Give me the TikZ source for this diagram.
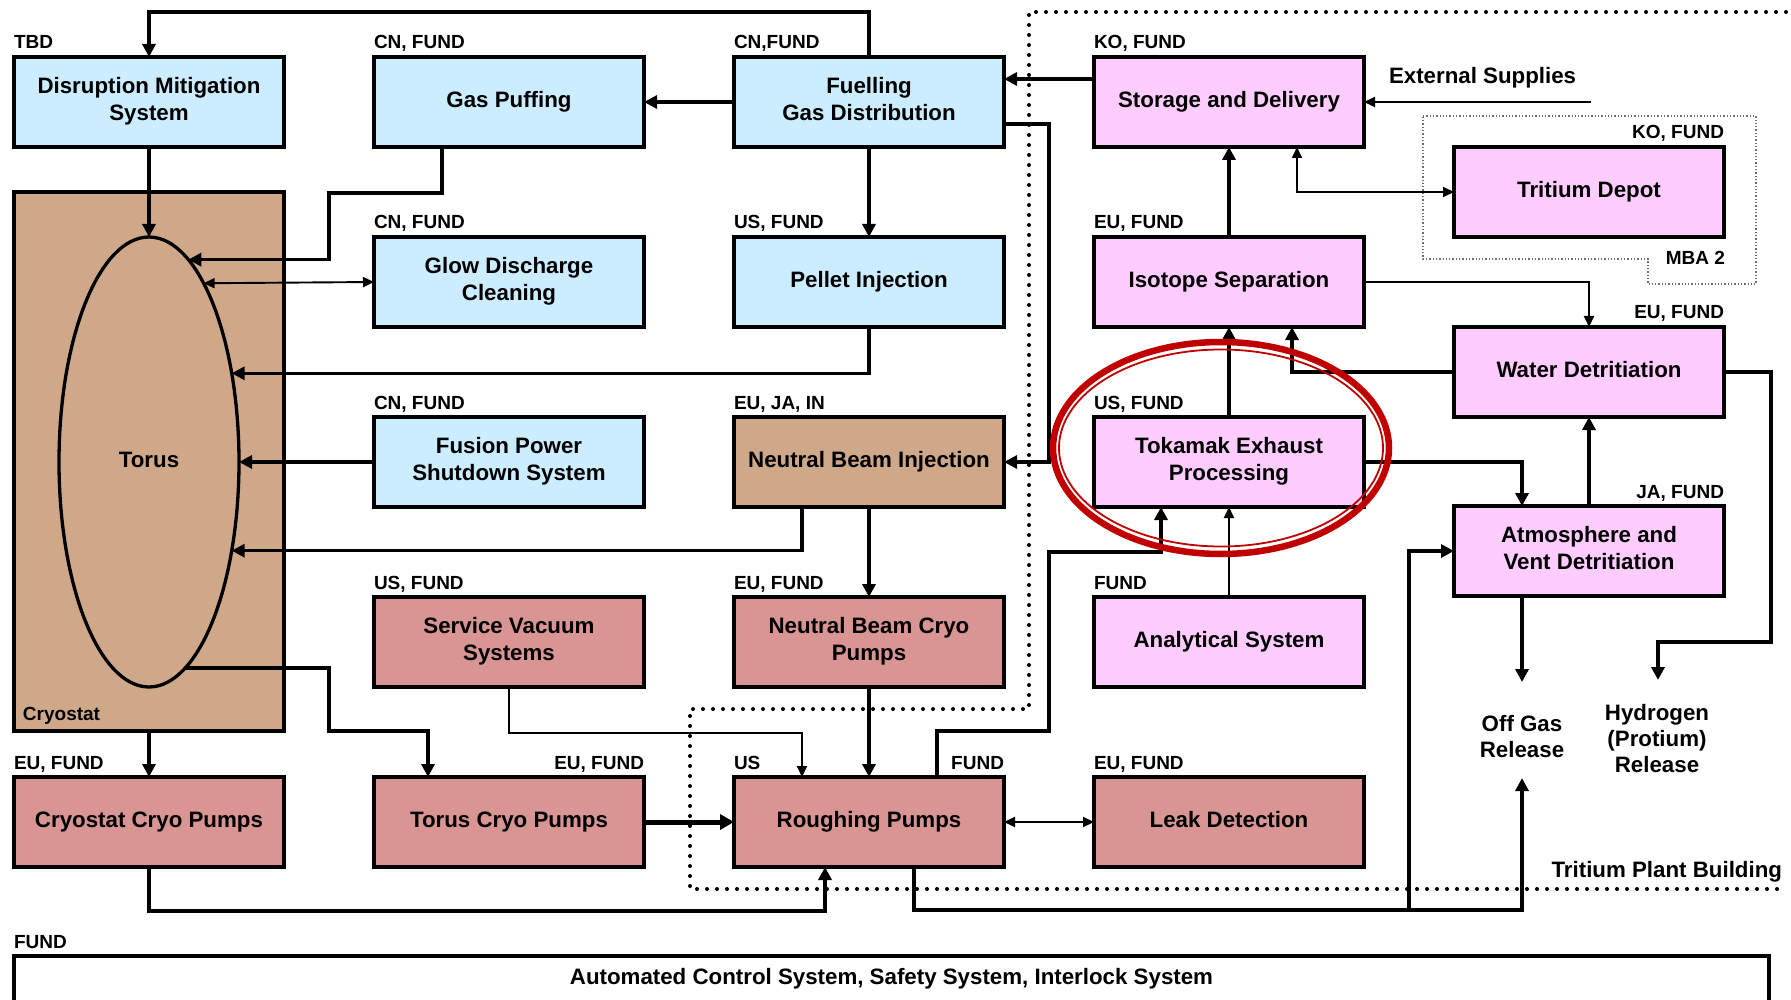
\documentclass[tikz,border=0pt]{standalone}
\usepackage{fontspec}
\setmainfont{Liberation Sans}
\usetikzlibrary{arrows.meta,shapes.geometric}

\definecolor{fillblue}{RGB}{204,236,255}
\definecolor{fillpink}{RGB}{255,204,255}
\definecolor{filltan}{RGB}{207,168,138}
\definecolor{fillrose}{RGB}{217,149,148}
\definecolor{ringred}{RGB}{192,0,0}
\definecolor{mbagray}{RGB}{110,110,110}

\newcommand\boxfont{\bfseries\fontsize{22.3pt}{27pt}\selectfont}
\newcommand\freefont{\bfseries\fontsize{22.3pt}{26pt}\selectfont}
\newcommand\labfont{\bfseries\fontsize{19pt}{22pt}\selectfont}

\begin{document}
\begin{tikzpicture}[x=1pt,y=-1pt,
  sysbox/.style={draw=black, line width=3.3pt, rectangle, minimum width=270pt,
    minimum height=90pt, inner sep=0pt, outer sep=0pt, align=center, font=\boxfont},
  blu/.style={sysbox, fill=fillblue},
  pnk/.style={sysbox, fill=fillpink},
  tan/.style={sysbox, fill=filltan},
  ros/.style={sysbox, fill=fillrose},
  tag/.style={inner sep=0pt, outer sep=0pt, font=\labfont},
  freetext/.style={inner sep=0pt, outer sep=0pt, align=center, font=\freefont},
  thk/.style={line width=3.3pt, -{Triangle[length=13pt,width=13pt]}},
  hvy/.style={line width=5pt, -{Triangle[length=14pt,width=15pt]}},
  thn/.style={line width=1.9pt, -{Triangle[length=11pt,width=10pt]}},
  thnboth/.style={line width=1.9pt, {Triangle[length=11pt,width=10pt]}-{Triangle[length=11pt,width=10pt]}},
  boundary/.style={line width=4pt, line cap=round, dash pattern=on 0pt off 10pt},
  mbaline/.style={draw=mbagray, line width=1.3pt, dash pattern=on 1.3pt off 2pt}]

\fill[white] (0,0) rectangle (1791,1000);
\useasboundingbox (0,0) rectangle (1791,1000);

% building boundary and material balance area
\draw[boundary] (1786,12) -- (1029,12) -- (1029,709) -- (690,709) -- (690,889) -- (1786,889);
\draw[mbaline] (1423,116) -- (1756,116) -- (1756,284) -- (1648,284) -- (1648,259) -- (1423,259) -- cycle;

% cryostat and torus
\node[tan, minimum width=270pt, minimum height=539pt] (cryo) at (149,461.5) {};
\node[draw=black, ellipse, line width=3.3pt, minimum width=180pt, minimum height=450pt,
      inner sep=0pt, outer sep=0pt, font=\boxfont] (torus) at (149,462) {\strut Torus};
\node[tag, anchor=base west] (tag-cryo) at (23,720) {Cryostat};

% systems
\node[blu] (dms)   at (149,102)  {\strut Disruption Mitigation\\\strut System};
\node[blu] (gp)    at (509,102)  {\strut Gas Puffing};
\node[blu] (fuel)  at (869,102)  {\strut Fuelling\\\strut Gas Distribution};
\node[pnk] (stor)  at (1229,102) {\strut Storage and Delivery};
\node[blu] (gdc)   at (509,282)  {\strut Glow Discharge\\\strut Cleaning};
\node[blu] (pel)   at (869,282)  {\strut Pellet Injection};
\node[pnk] (iso)   at (1229,282) {\strut Isotope Separation};
\node[blu] (fpss)  at (509,462)  {\strut Fusion Power\\\strut Shutdown System};
\node[tan] (nbi)   at (869,462)  {\strut Neutral Beam Injection};
\node[pnk] (tep)   at (1229,462) {\strut Tokamak Exhaust\\\strut Processing};
\node[ros] (svs)   at (509,642)  {\strut Service Vacuum\\\strut Systems};
\node[ros] (nbc)   at (869,642)  {\strut Neutral Beam Cryo\\\strut Pumps};
\node[pnk] (anal)  at (1229,642) {\strut Analytical System};
\node[ros] (ccp)   at (149,822)  {\strut Cryostat Cryo Pumps};
\node[ros] (tcp)   at (509,822)  {\strut Torus Cryo Pumps};
\node[ros] (rough) at (869,822)  {\strut Roughing Pumps};
\node[ros] (leak)  at (1229,822) {\strut Leak Detection};
\node[pnk] (depot) at (1589,192) {\strut Tritium Depot};
\node[pnk] (water) at (1589,372) {\strut Water Detritiation};
\node[pnk] (avd)   at (1589,551) {\strut Atmosphere and\\\strut Vent Detritiation};
\node[sysbox, fill=white, minimum width=1755pt, minimum height=46pt] (ctrl) at (891.5,979)
  {\strut Automated Control System, Safety System, Interlock System};

% responsible parties
\node[tag, anchor=base west] (tag-dms)   at ([yshift=8pt]dms.north west)   {TBD};
\node[tag, anchor=base west] (tag-gp)    at ([yshift=8pt]gp.north west)    {CN, FUND};
\node[tag, anchor=base west] (tag-fuel)  at ([yshift=8pt]fuel.north west)  {CN,FUND};
\node[tag, anchor=base west] (tag-stor)  at ([yshift=8pt]stor.north west)  {KO, FUND};
\node[tag, anchor=base west] (tag-gdc)   at ([yshift=8pt]gdc.north west)   {CN, FUND};
\node[tag, anchor=base west] (tag-pel)   at ([yshift=8pt]pel.north west)   {US, FUND};
\node[tag, anchor=base west] (tag-iso)   at ([yshift=8pt]iso.north west)   {EU, FUND};
\node[tag, anchor=base west] (tag-fpss)  at ([yshift=8pt]fpss.north west)  {CN, FUND};
\node[tag, anchor=base west] (tag-nbi)   at ([yshift=8pt]nbi.north west)   {EU, JA, IN};
\node[tag, anchor=base west] (tag-tep)   at ([yshift=8pt]tep.north west)   {US, FUND};
\node[tag, anchor=base west] (tag-svs)   at ([yshift=8pt]svs.north west)   {US, FUND};
\node[tag, anchor=base west] (tag-nbc)   at ([yshift=8pt]nbc.north west)   {EU, FUND};
\node[tag, anchor=base west] (tag-anal)  at ([yshift=8pt]anal.north west)  {FUND};
\node[tag, anchor=base west] (tag-ccp)   at ([yshift=8pt]ccp.north west)   {EU, FUND};
\node[tag, anchor=base east] (tag-tcp)   at ([yshift=8pt]tcp.north east)   {EU, FUND};
\node[tag, anchor=base west] (tag-rough) at ([yshift=8pt]rough.north west) {US};
\node[tag, anchor=base east] (tag-rough2) at ([yshift=8pt]rough.north east) {FUND};
\node[tag, anchor=base west] (tag-leak)  at ([yshift=8pt]leak.north west)  {EU, FUND};
\node[tag, anchor=base east] (tag-depot) at ([yshift=8pt]depot.north east) {KO, FUND};
\node[tag, anchor=base east] (tag-water) at ([yshift=8pt]water.north east) {EU, FUND};
\node[tag, anchor=base east] (tag-avd)   at ([yshift=8pt]avd.north east)   {JA, FUND};
\node[tag, anchor=base west] (tag-ctrl)  at ([yshift=8pt]ctrl.north west)  {FUND};
\node[tag, anchor=base east] (tag-mba)   at (1725,265) {MBA 2};

% free texts
\node[freetext, anchor=base west] (extsup) at (1389,84) {External Supplies};
\node[freetext] (offgas) at (1522,737) {Off Gas\\Release};
\node[freetext] (hydro) at (1657,739) {Hydrogen\\(Protium)\\Release};
\node[freetext, anchor=base east] (tpb) at (1782,877) {Tritium Plant Building};

% connector end points
\coordinate (ext) at (1591,102);
\coordinate (offin) at (1522,778);
\coordinate (offout) at (1522,682);
\coordinate (h2in) at (1658,680);
\coordinate (split) at (1409,910);

% fuelling and plasma heating
\draw[thk] (fuel.north) -- ++(0,-45) -| (dms.north);
\draw[thk] (dms.south) -- (torus.north);
\draw[thk] ([xshift=-67pt]gp.south) |- (329,193) |- (torus.79.46);
\draw[thnboth] (torus.73.3) -- (gdc.west);
\draw[thk] (pel.south) |- (torus.47.49);
\draw[thk] (fpss.west) -- (torus.east);
\draw[thk] ([xshift=-67pt]nbi.south) |- (torus.-47.87);
\draw[thk] ([yshift=23pt]stor.west) -- ([yshift=23pt]fuel.east);
\draw[thk] ([yshift=-22pt]fuel.east) -- ++(45,0) |- (nbi.east);
\draw[thk] (fuel.west) -- (gp.east);
\draw[thk] (fuel.south) -- (pel.north);
\draw[thk] (nbi.south) -- (nbc.north);

% vacuum pumping
\draw[thk] (torus.-80.63) -| (329,731) -| ([xshift=-81pt]tcp.north);
\draw[thn] (svs.south) -- ++(0,46) -| ([xshift=-67pt]rough.north);
\draw[thk] (nbc.south) -- (rough.north);
\draw[hvy] (tcp.east) -- (rough.west);
\draw[thk] (cryo.south) -- (ccp.north);
\draw[thk] (ccp.south) -- ++(0,44) -| ([xshift=-44pt]rough.south);
\draw[thnboth] (rough.east) -- (leak.west);
\draw[thk] ([xshift=68pt]rough.north) |- (1049,731) |- (1161,552) -- ([xshift=-68pt]tep.south);
\draw[thk] ([xshift=45pt]rough.south) -- ++(0,43) -| (offin);
\draw[thk] (split) |- (avd.west);

% tritium plant
\draw[thn] (anal.north) -- (tep.south);
\draw[thk] (tep.north) -- (iso.south);
\draw[thk] (iso.north) -- (stor.south);
\draw[thnboth] ([xshift=68pt]stor.south) |- (depot.west);
\draw[thn] (ext) -- (stor.east);
\draw[thn] (iso.east) -| (water.north);
\draw[thk] (water.west) -| ([xshift=63pt]iso.south);
\draw[thk] (tep.east) -| ([xshift=-67pt]avd.north);
\draw[thk] (avd.north) -- (water.south);
\draw[thk] (water.east) -| (1771,642) -| (h2in);
\draw[thk] ([xshift=-67pt]avd.south) -- (offout);

% highlight ring
\draw[ringred, line width=6.5pt] (1221,448) ellipse [x radius=168, y radius=106];
\draw[ringred, line width=1.8pt] (1221,448) ellipse [x radius=162, y radius=98.5];
\end{tikzpicture}
\end{document}
